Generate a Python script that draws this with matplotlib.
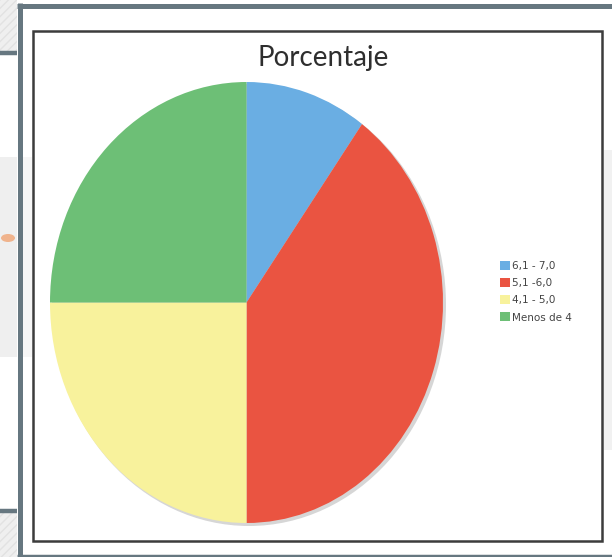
import matplotlib
matplotlib.use("Agg")
import matplotlib.pyplot as plt
from matplotlib.patches import Rectangle, Ellipse, Patch

# data
labels = ["6,1 - 7,0", "5,1 -6,0", "4,1 - 5,0", "Menos de 4"]
values = [10, 40, 25, 25]
colors = ["#6aaee3", "#ea5441", "#f8f29c", "#6dbf76"]
title = "Porcentaje"

W, H = 612, 557
fig = plt.figure(figsize=(W / 100, H / 100), dpi=100)
fig.patch.set_facecolor("white")

# background / frames, in pixel coordinates
bg = fig.add_axes([0, 0, 1, 1])
bg.set_xlim(0, W)
bg.set_ylim(H, 0)
bg.axis("off")

slate = "#667780"
bg.add_patch(Rectangle((0, 0), 17, 51, facecolor="#efefef", edgecolor="#e2e2e2",
                       hatch="////", lw=0))
bg.add_patch(Rectangle((0, 157), 17, 200, facecolor="#efefef", lw=0))
bg.add_patch(Rectangle((0, 513), 17, 44, facecolor="#efefef", edgecolor="#e2e2e2",
                       hatch="////", lw=0))
bg.add_patch(Rectangle((22, 157), 10, 200, facecolor="#f6f6f6", lw=0))
bg.add_patch(Rectangle((604, 150), 8, 300, facecolor="#f1f1f1", lw=0))
bg.add_patch(Ellipse((8, 238), 14, 8, facecolor="#f0b38c", lw=0))

bg.plot([0, 17], [52.5, 52.5], color=slate, lw=3.2, solid_capstyle="butt")
bg.plot([0, 17], [511, 511], color=slate, lw=3.2, solid_capstyle="butt")
bg.plot([19.5, 19.5], [3, H], color=slate, lw=3.6, solid_capstyle="butt")
bg.plot([17, W], [5.5, 5.5], color=slate, lw=3.6, solid_capstyle="butt")
bg.plot([17, W], [555.5, 555.5], color=slate, lw=2.5, solid_capstyle="butt")

bg.add_patch(Rectangle((33, 30.5), 569, 510.5, facecolor="none",
                       edgecolor="#3c3c3c", lw=1.8))

# soft shadow under the pie
bg.add_patch(Ellipse((249, 305), 394, 442, facecolor="#d6d6d6", lw=0))

bg.text(323, 58, title, fontsize=20, family="Lato", color="#2e2e2e",
        ha="center", va="center")

# pie (stretched into an ellipse like the reference)
left, right, top, bottom = 50, 443, 82, 523
ax = fig.add_axes([left / W, 1 - bottom / H, (right - left) / W, (bottom - top) / H])
ax.pie(values, colors=colors, startangle=90, counterclock=False,
       wedgeprops=dict(linewidth=0))
ax.set_aspect("auto")
ax.set_xlim(-1, 1)
ax.set_ylim(-1, 1)
ax.axis("off")

handles = [Patch(facecolor=c, edgecolor="none") for c in colors]
fig.legend(handles, labels, loc="upper left",
           bbox_to_anchor=(500 / W, 1 - 261 / H), frameon=False,
           fontsize=7.5, handlelength=0.95, handleheight=0.95,
           handletextpad=0.2, labelspacing=0.68, borderpad=0,
           borderaxespad=0, labelcolor="#444444")

fig.savefig("out.png", dpi=100)
